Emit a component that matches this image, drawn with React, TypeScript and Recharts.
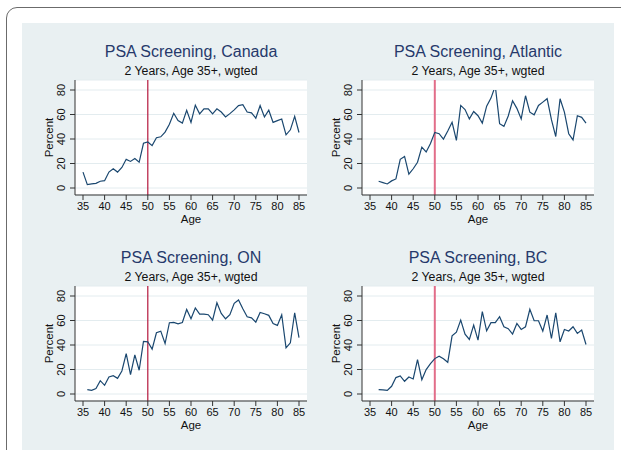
import React from 'react'
import { LineChart, Line, XAxis, YAxis, CartesianGrid, ReferenceLine, Label } from 'recharts'

const FONT = '"Liberation Sans", Arial, Helvetica, sans-serif'

const ages = [
  35, 36, 37, 38, 39, 40, 41, 42, 43, 44, 45, 46, 47, 48, 49, 50, 51, 52, 53, 54, 55, 56, 57, 58, 59, 60,
  61, 62, 63, 64, 65, 66, 67, 68, 69, 70, 71, 72, 73, 74, 75, 76, 77, 78, 79, 80, 81, 82, 83, 84, 85,
]

// percent screened, one value per age above (null = no estimate)
const canada = [
  13, 2.7, 3.3, 3.8, 5.5, 6, 13, 15.7, 13, 16.8, 23.4, 21.7, 24, 21, 36.5, 37.6, 34.6, 41, 41.8, 45.6, 52,
  61, 55, 53, 63.5, 53.6, 67.6, 60.5, 64.6, 64.6, 60.5, 64.6, 62, 58, 60.7, 63.8, 67.3, 68, 62, 61.3, 57,
  67.3, 58, 63.5, 53.6, 55, 56.3, 43.4, 47.5, 58.5, 45.3,
]
const atlantic = [
  null, null, 5.5, 4.4, 3.3, 5.8, 7.4, 23.4, 25.8, 11.3, 15.7, 21, 33.3, 29.4, 36.3, 45.4, 44.3, 39.9, 46.5,
  53.6, 38.8, 67.4, 64, 56.4, 62.4, 59, 53, 66.8, 73.4, 83.3, 52.5, 50.3, 58.8, 71.2, 65, 56.4, 75.3, 61.9,
  59.7, 67.4, 70.1, 72.9, 55.8, 42, 72.9, 61.9, 44.3, 39.3, 59, 57.7, 53,
]
const ontario = [
  null, 3.5, 3, 4.4, 10.9, 7.1, 13.9, 15, 12.8, 18.8, 33, 15.8, 32, 19.4, 42.9, 42.6, 36.6, 50, 51.3, 41.2,
  58.2, 58.4, 57.3, 58.4, 69, 61.4, 70.2, 65.2, 65.2, 64.7, 60.3, 74.5, 65.8, 61.4, 64.7, 74, 76.7, 69.6,
  63, 62.2, 58.7, 66.6, 65.5, 64.2, 57.6, 56, 64.7, 37.7, 41.8, 66.3, 46.1,
]
const bc = [
  null, null, 3.5, 3.3, 3, 6.3, 13.4, 14.7, 10.4, 13.9, 12.3, 28.1, 11.7, 19.9, 24.8, 28.9, 30.9, 28.7, 25.9,
  47.5, 50.5, 60.3, 48.9, 44.5, 56.2, 44, 67.2, 51.6, 58.2, 58.2, 63.1, 54.9, 53.3, 48.9, 57.6, 52.7, 54.9,
  69.1, 59.8, 59.8, 51.4, 64.5, 45.3, 66.3, 42.6, 52.7, 51.4, 54.9, 49.5, 52.2, 40.4,
]

const xTicks = [35, 40, 45, 50, 55, 60, 65, 70, 75, 80, 85]
const yTicks = [0, 20, 40, 60, 80]
const cutoffAge = 50
const subtitle = '2 Years, Age 35+, wgted'

const PLOT_W = 232
const PLOT_H = 115
const AXIS_W = 55
const AXIS_H = 40
const M_TOP = 6
const M_RIGHT = 6

const panels = [
  { title: 'PSA Screening, Canada', values: canada, left: 75, top: 80, ref: '#b5173d', refW: 1.2 },
  { title: 'PSA Screening, Atlantic', values: atlantic, left: 362, top: 80, ref: '#e26d89', refW: 2 },
  { title: 'PSA Screening, ON', values: ontario, left: 75, top: 286, ref: '#b5173d', refW: 1.2 },
  { title: 'PSA Screening, BC', values: bc, left: 362, top: 286, ref: '#e26d89', refW: 2 },
]

const YTick = (props: any) => {
  const { x, y, payload } = props
  const tx = x - 3
  return (
    <text x={tx} y={y} transform={`rotate(-90, ${tx}, ${y})`} textAnchor="middle" fontSize={11} fill="#111" fontFamily={FONT}>
      {payload.value}
    </text>
  )
}

const PercentLabel = (props: any) => {
  const vb = props.viewBox
  const x = vb.x + vb.width - 22
  const y = vb.y + vb.height / 2
  return (
    <text x={x} y={y} transform={`rotate(-90, ${x}, ${y})`} textAnchor="middle" fontSize={11.5} fill="#111" fontFamily={FONT}>
      Percent
    </text>
  )
}

const AgeLabel = (props: any) => {
  const vb = props.viewBox
  return (
    <text x={vb.x + vb.width / 2} y={vb.y + 23.5} textAnchor="middle" dominantBaseline="central" fontSize={11.5} fill="#111" fontFamily={FONT}>
      Age
    </text>
  )
}

const Panel = ({ p }: { p: (typeof panels)[number] }) => {
  const data = ages.map((age, i) => ({ age, value: p.values[i] }))
  return (
    <>
      <div style={{ position: 'absolute', left: p.left, top: p.top - 38, width: PLOT_W, height: 20, lineHeight: '20px', textAlign: 'center', fontSize: 16, color: '#26396b' }}>
        {p.title}
      </div>
      <div style={{ position: 'absolute', left: p.left, top: p.top - 17, width: PLOT_W, height: 16, lineHeight: '16px', textAlign: 'center', fontSize: 12.3, color: '#111' }}>
        {subtitle}
      </div>
      <div style={{ position: 'absolute', left: p.left - AXIS_W, top: p.top - M_TOP }}>
        <LineChart
          width={AXIS_W + PLOT_W + M_RIGHT}
          height={M_TOP + PLOT_H + AXIS_H}
          data={data}
          margin={{ top: M_TOP, right: M_RIGHT, bottom: 0, left: 0 }}
        >
          <CartesianGrid vertical={false} stroke="#e3ecef" fill="#fff" />
          <XAxis
            type="number"
            dataKey="age"
            domain={[35, 85]}
            ticks={xTicks}
            interval={0}
            padding={{ left: 8, right: 8 }}
            height={AXIS_H}
            tickSize={5}
            tickMargin={2}
            axisLine={{ stroke: '#333' }}
            tickLine={{ stroke: '#333' }}
            tick={{ fontSize: 11, fill: '#111', fontFamily: FONT }}
          >
            <Label content={AgeLabel} />
          </XAxis>
          <YAxis
            domain={[0, 80]}
            allowDataOverflow
            ticks={yTicks}
            interval={0}
            padding={{ top: 10, bottom: 7 }}
            width={AXIS_W}
            tickSize={5}
            tickMargin={2}
            axisLine={{ stroke: '#333' }}
            tickLine={{ stroke: '#333' }}
            tick={<YTick />}
          >
            <Label content={PercentLabel} />
          </YAxis>
          <ReferenceLine x={cutoffAge} stroke={p.ref} strokeWidth={p.refW} />
          <Line
            type="linear"
            dataKey="value"
            stroke="#1a476f"
            strokeWidth={1.2}
            dot={false}
            isAnimationActive={false}
          />
        </LineChart>
      </div>
    </>
  )
}

const App: React.FC = () => {
  return (
    <div style={{ position: 'absolute', left: 0, top: 0, width: 621, height: 450, overflow: 'hidden', background: '#fff', fontFamily: FONT }}>
      <div style={{ position: 'absolute', left: 6, top: 7, width: 700, height: 600, border: '1.3px solid #6b6b6b', borderTopLeftRadius: 11 }} />
      <div style={{ position: 'absolute', left: 22, top: 23, width: 592, height: 440, background: '#e9f0f2' }} />
      {panels.map((p) => (
        <Panel key={p.title} p={p} />
      ))}
    </div>
  )
}

export default App
